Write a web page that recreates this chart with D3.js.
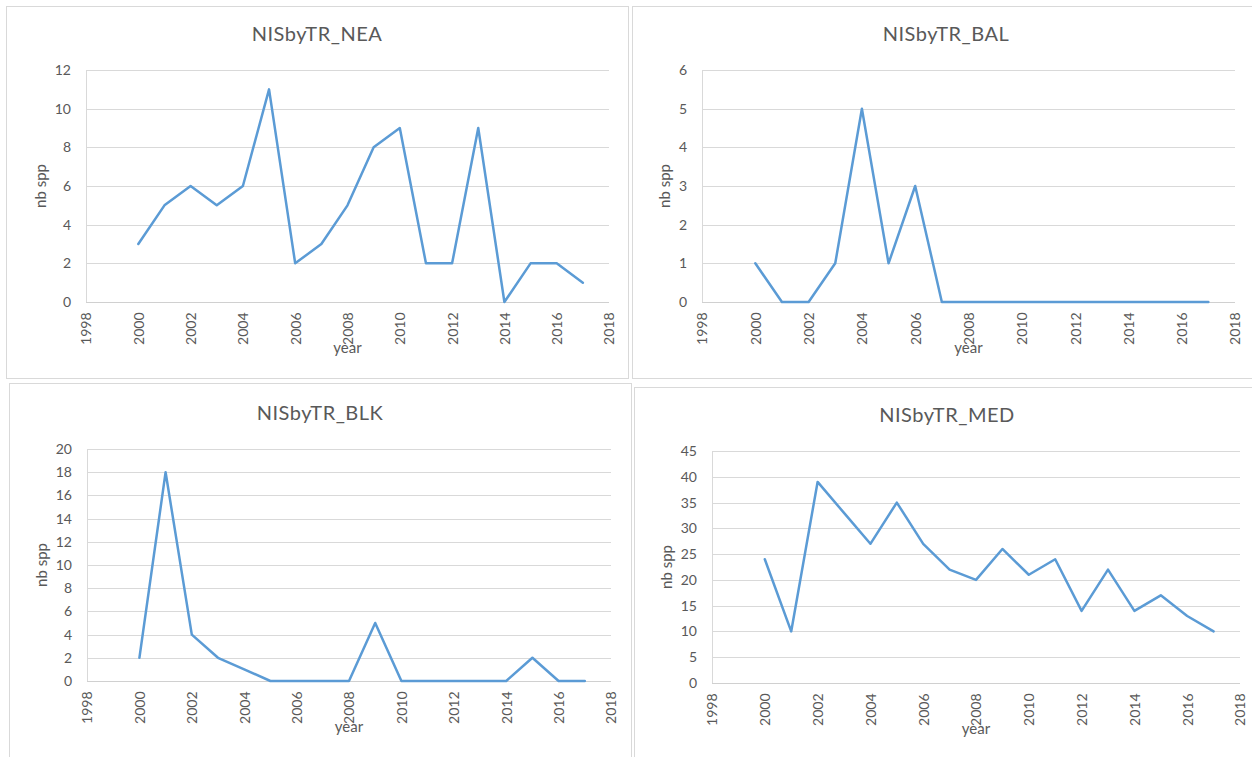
<!DOCTYPE html>
<html>
<head>
<meta charset="utf-8">
<script src="https://cdn.jsdelivr.net/npm/d3@7"></script>
<style>
  html, body { margin: 0; padding: 0; background: #fff; overflow: hidden; }
  svg { display: block; }
  text { font-family: Lato, "Open Sans", sans-serif; fill: #595959; }
</style>
</head>
<body>
<svg id="chart" width="1252" height="757"></svg>
<script>
// Yearly counts of new non-indigenous species, per regional sea
const years = [2000, 2001, 2002, 2003, 2004, 2005, 2006, 2007, 2008,
               2009, 2010, 2011, 2012, 2013, 2014, 2015, 2016, 2017];
const neaValues = [3, 5, 6, 5, 6, 11, 2, 3, 5, 8, 9, 2, 2, 9, 0, 2, 2, 1];
const balValues = [1, 0, 0, 1, 5, 1, 3, 0, 0, 0, 0, 0, 0, 0, 0, 0, 0, 0];
const blkValues = [2, 18, 4, 2, 1, 0, 0, 0, 0, 5, 0, 0, 0, 0, 0, 2, 0, 0];
const medValues = [24, 10, 39, 33, 27, 35, 27, 22, 20, 26, 21, 24, 14, 22, 14, 17, 13, 10];

const titles = ["NISbyTR_NEA", "NISbyTR_BAL", "NISbyTR_BLK", "NISbyTR_MED"];
const xTicks = [1998, 2000, 2002, 2004, 2006, 2008, 2010, 2012, 2014, 2016, 2018];
const yMax = [12, 6, 20, 45];
const yStep = [2, 1, 2, 5];
const xLabel = "year";
const yLabel = "nb spp";

const seriesList = [neaValues, balValues, blkValues, medValues];

// Panel frames and plot areas (pixels); the right-hand frames run past the page edge
const layout = [
  { box: [6, 6, 628, 378],      plot: [86, 70, 609, 302] },
  { box: [632, 6, 1260, 378],   plot: [702, 70, 1235, 302] },
  { box: [9, 383, 631, 760],    plot: [87, 449, 611, 681] },
  { box: [634, 387, 1260, 760], plot: [712, 451, 1240, 683] }
];

const svg = d3.select("#chart");
const fontStack = "Lato, 'Open Sans', sans-serif";

titles.forEach((title, i) => {
  const L = layout[i];
  const [bx0, by0, bx1, by1] = L.box;
  const [px0, py0, px1, py1] = L.plot;
  const values = seriesList[i];

  const g = svg.append("g");

  // chart frame
  g.append("rect")
    .attr("x", bx0 + 0.5).attr("y", by0 + 0.5)
    .attr("width", bx1 - bx0).attr("height", by1 - by0)
    .attr("fill", "#fff").attr("stroke", "#D9D9D9").attr("stroke-width", 1);

  const x = d3.scaleLinear().domain([1998, 2018]).range([px0, px1]);
  const y = d3.scaleLinear().domain([0, yMax[i]]).range([py1, py0]);
  const yTicks = d3.range(0, yMax[i] + yStep[i] / 2, yStep[i]);

  // horizontal gridlines
  g.append("g")
    .selectAll("line")
    .data(yTicks.filter(v => v > 0))
    .join("line")
    .attr("x1", px0).attr("x2", px1)
    .attr("y1", d => Math.round(y(d)) + 0.5).attr("y2", d => Math.round(y(d)) + 0.5)
    .attr("stroke", "#D9D9D9").attr("stroke-width", 1);

  // y axis labels
  const yAxis = g.append("g")
    .attr("transform", `translate(${px0},0)`)
    .call(d3.axisLeft(y).tickValues(yTicks).tickFormat(d3.format("d"))
      .tickSize(0).tickPadding(15));
  yAxis.select(".domain").remove();
  yAxis.selectAll("text")
    .style("font-size", "14px").attr("fill", "#595959")
    .style("font-family", fontStack);

  // left axis line
  g.append("line")
    .attr("x1", px0 + 0.5).attr("x2", px0 + 0.5)
    .attr("y1", py0).attr("y2", py1)
    .attr("stroke", "#D9D9D9").attr("stroke-width", 1);

  // x axis with rotated year labels
  const xAxis = g.append("g")
    .attr("transform", `translate(0,${Math.round(py1) + 0.5})`)
    .call(d3.axisBottom(x).tickValues(xTicks).tickFormat(d3.format("d")).tickSize(0));
  xAxis.select(".domain").attr("stroke", "#D0D0D0").attr("d", `M${px0},0H${px1}`);
  xAxis.selectAll("text")
    .attr("transform", "rotate(-90)")
    .attr("text-anchor", "end")
    .attr("x", -10).attr("y", 0).attr("dy", "0.35em")
    .style("font-size", "14px").attr("fill", "#595959")
    .style("font-family", fontStack);

  // data line
  const line = d3.line()
    .x((d, j) => x(years[j]))
    .y(d => y(d));
  g.append("path")
    .datum(values)
    .attr("d", line)
    .attr("fill", "none")
    .attr("stroke", "#5B9BD5")
    .attr("stroke-width", 2.5)
    .attr("stroke-linejoin", "round")
    .attr("stroke-linecap", "round");

  // chart title, centred on the frame
  g.append("text")
    .attr("x", (bx0 + bx1) / 2)
    .attr("y", py0 - 29)
    .attr("text-anchor", "middle")
    .style("font-size", "20px")
    .style("letter-spacing", "0.5px")
    .text(title);

  // axis titles
  g.append("text")
    .attr("x", (px0 + px1) / 2)
    .attr("y", py1 + 51)
    .attr("text-anchor", "middle")
    .style("font-size", "15px")
    .text(xLabel);

  let maxW = 0;
  yAxis.selectAll("text").each(function () {
    maxW = Math.max(maxW, this.getBBox().width);
  });
  const ylx = px0 - 15 - maxW - 14;
  g.append("text")
    .attr("transform", `translate(${ylx},${(py0 + py1) / 2}) rotate(-90)`)
    .attr("text-anchor", "middle")
    .attr("dy", "0.32em")
    .style("font-size", "15px")
    .text(yLabel);
});
</script>
</body>
</html>
